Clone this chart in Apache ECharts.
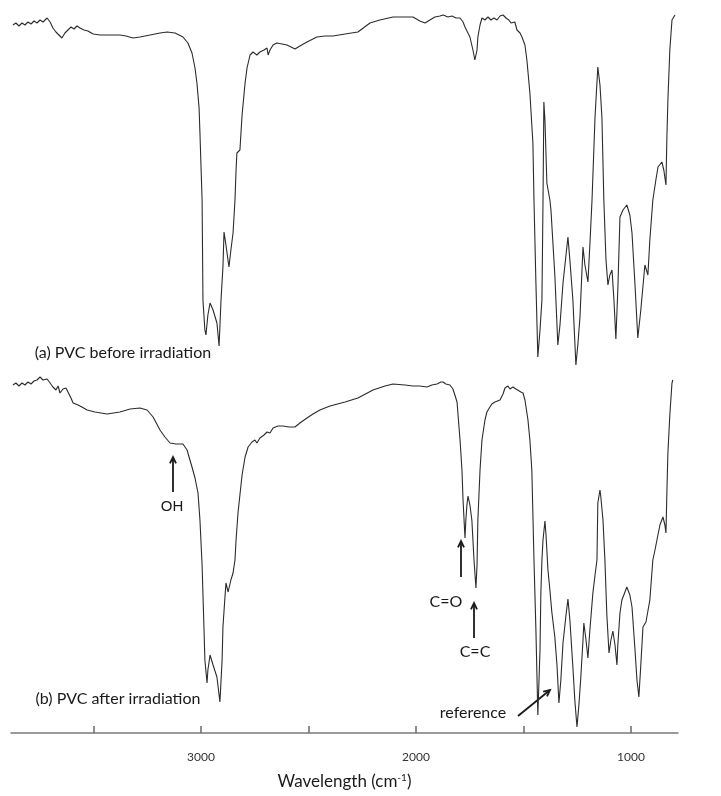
<!DOCTYPE html>
<html>
<head>
<meta charset="utf-8">
<script src="https://cdn.jsdelivr.net/npm/echarts@6/dist/echarts.min.js"></script>
<style>
  html, body { margin: 0; padding: 0; background: #fff; }
  #main { width: 721px; height: 796px; }
</style>
</head>
<body>
<div id="main"></div>
<script>
// (a) PVC before irradiation : wavenumber (cm-1) / transmittance
var wnA = [3875,3861,3847,3833,3819,3805,3791,3777,3763,3749,3735,3716,3702,3689,3675,3661,3647,3633,3619,3605,
  3591,3577,3563,3544,3526,3502,3470,3423,3377,3349,3316,3284,3237,3191,3158,3121,3084,3061,3042,3028,
  3019,3009,3005,2995,2991,2982,2977,2968,2958,2944,2926,2916,2907,2898,2893,2884,2870,2861,2851,2842,
  2837,2833,2828,2819,2809,2795,2786,2772,2758,2740,2726,2707,2693,2688,2679,2665,2647,2623,2600,2581,
  2563,2540,2507,2461,2423,2386,2330,2270,2214,2168,2107,2051,2014,1982,1958,1935,1912,1888,1874,1851,
  1833,1814,1795,1781,1772,1763,1749,1735,1726,1716,1712,1702,1693,1679,1665,1651,1637,1623,1609,1595,
  1581,1568,1558,1549,1540,1530,1516,1507,1493,1484,1470,1456,1451,1442,1433,1423,1414,1409,1405,1400,
  1391,1377,1372,1354,1340,1330,1316,1302,1293,1284,1270,1256,1247,1237,1223,1214,1200,1191,1181,1167,
  1154,1144,1135,1126,1116,1107,1098,1088,1079,1070,1061,1051,1037,1019,1005,995,981,968,954,935,
  921,912,898,884,874,856,847,837,833,828,819,809,795];
var tA = [86.75,87.25,86.5,87.25,86.75,87.5,87,87.75,87.25,88,87.5,88.5,87.5,86,85,84.25,83.5,84.75,85.5,86.25,
  85.75,86.5,86,85.5,85.25,84.5,84.25,84.25,84.25,84,83.5,83.75,84.25,84.75,85,84.75,83.75,82.25,79.75,76,
  72.25,66,59.75,43,18,10.5,9.25,14.25,17.25,15.5,12.25,6.5,18,26.25,35,31.75,26.25,30.5,34.75,43,
  50.5,54.75,55,55.5,64.25,72.25,76,79.25,80,79.25,80,80.5,81,79.25,80.5,81.75,82.25,82,81.75,81.25,
  80.75,81.5,82.5,83.75,84,84,84.5,85,87.25,88,88.75,88.75,88.75,87.75,87.25,88,88.75,89,89.25,88.75,
  89,88.5,88.5,87.5,86.25,86.75,83.75,80.5,78,80.5,83.75,86.75,88.5,88,88.75,88,88.5,88,89,89.25,
  88.5,88,87.25,86.75,87.5,85.5,84.75,83.75,81.75,78,69.75,57.25,43,22.25,3.75,10.5,18,43,67.5,63,
  47.25,43,40.5,24.25,6.75,11.75,22.25,29.25,33.75,28,18,1.75,6.75,13.75,31.25,26.75,22.5,31.75,43,63.75,
  76.25,71.75,63.75,43,28,21.75,24.25,25.5,18,8.25,20.5,38.75,40.5,41.75,39.25,34.75,21.75,8.5,15.5,26.75,
  24.25,33,43,48,51.25,52.5,50.5,46.75,58,68,80.5,88,89.25];

// (b) PVC after irradiation
var wnB = [3875,3861,3847,3833,3819,3805,3791,3777,3763,3749,3735,3716,3702,3689,3675,3665,3656,3642,3628,3619,
  3605,3595,3572,3554,3530,3493,3437,3377,3330,3284,3251,3223,3191,3168,3144,3116,3084,3065,3042,3028,
  3014,3005,2995,2986,2982,2972,2968,2958,2944,2926,2912,2902,2898,2888,2884,2874,2870,2861,2851,2842,
  2837,2828,2819,2809,2795,2781,2763,2749,2740,2726,2707,2693,2679,2665,2642,2619,2591,2563,2540,2507,
  2479,2447,2400,2330,2270,2200,2144,2107,2051,2014,1982,1949,1926,1902,1884,1874,1861,1842,1828,1819,
  1809,1805,1795,1786,1781,1772,1768,1763,1758,1749,1740,1730,1721,1716,1712,1702,1693,1679,1670,1656,
  1647,1633,1609,1595,1586,1572,1563,1549,1535,1526,1512,1502,1493,1479,1470,1461,1451,1442,1433,1423,
  1419,1414,1409,1400,1395,1386,1377,1368,1354,1344,1335,1326,1316,1302,1293,1284,1270,1261,1251,1242,
  1233,1223,1219,1209,1200,1191,1177,1167,1158,1154,1144,1140,1130,1121,1112,1102,1093,1084,1074,1065,
  1061,1051,1042,1033,1019,1005,995,981,972,963,954,944,930,921,912,898,888,879,865,851,
  842,837,833,828,819,809,805];
var tB = [87,87.5,86.75,87.5,87,87.75,87.25,88,88.25,89,88.25,88.5,87.5,86.5,85.75,86.75,85,86,86.25,85.25,
  83.75,82.5,82,81.5,80.75,80.25,79.75,80.25,81,81.25,80.75,79,75.75,74,72.5,72.25,72.25,70.75,66.5,63.75,
  60,53.25,42,25.75,18.25,12.5,15.75,19.5,17,14,7.75,18.25,26.5,34.5,37.5,35.25,35.25,38.25,40,43.25,
  48.25,55,59.5,64.5,69,71.5,72.75,73.25,72.5,73.75,74.5,75.25,75,76.25,76.75,76.75,76.5,76.5,77.5,78.75,
  79.75,80.75,81.75,82.75,83.75,85.75,86.75,87.25,87,86.75,86.75,86.5,87,87.25,87.75,87.75,87.25,87,86,84.5,
  82.75,80,73.25,65.75,58.25,48.75,53.25,57,59.25,57,53.25,43.25,36.25,42,53.25,65.75,73.25,78.25,80.25,81.5,
  82.25,82.75,83.25,84.75,86.25,86.75,86,86.5,86,86.5,85.25,85,83.25,78.25,73.25,65.75,43.25,25.75,4.5,20.75,
  35,43.25,48.25,53,49.5,40.75,35.75,30.25,24,17,7.5,13.25,22.5,29.5,33.5,28.25,16.5,8.25,1.5,7,
  14,23.25,27.5,23.25,18.75,25.75,35,39.5,43.25,57.5,60.75,59,53.25,43.25,29.5,20,23.25,25.5,22,17,
  22,30,33.25,34.5,36.5,34.5,31.5,20.75,13.25,9,17,26.5,27.75,28.25,33.25,43.25,45.75,48.25,52,54,
  52,50,59.5,70,79.5,87.5,88.25];

var tickValues = [3500, 3000, 2500, 2000, 1500, 1000];
var labelValues = [3000, 2000, 1000];

var zip = function(xs, ys){
    var out = [];
    for (var i = 0; i < xs.length; i++) out.push([xs[i], ys[i]]);
    return out;
};

var myChart = echarts.init(document.getElementById('main'));
var lineStyle = { color: '#2b2b2b', width: 1.1 };
var calibri = 'Lato, "Open Sans", sans-serif';

// arrow helper for the annotations (shaft + open head)
var arrow = function(x1, y1, x2, y2){
    var a = Math.atan2(y2 - y1, x2 - x1), h = 7, s = 0.45;
    return [
        { type: 'line', shape: { x1: x1, y1: y1, x2: x2, y2: y2 }, style: { stroke: '#1a1a1a', lineWidth: 1.8 } },
        { type: 'polyline', shape: { points: [
            [x2 - h * Math.cos(a - s), y2 - h * Math.sin(a - s)], [x2, y2],
            [x2 - h * Math.cos(a + s), y2 - h * Math.sin(a + s)] ] },
          style: { stroke: '#1a1a1a', lineWidth: 1.8, fill: null } }
    ];
};
var txt = function(x, y, s, font, size){
    return { type: 'text', x: x, y: y, style: { text: s, font: size + 'px ' + font, fill: '#1a1a1a', align: 'center', verticalAlign: 'middle' } };
};

var graphics = [
    txt(123, 353, '(a) PVC before irradiation', calibri, 16),
    txt(118, 699, '(b) PVC after irradiation', calibri, 16),
    txt(172, 507, 'OH', '"Liberation Sans", Arial', 15),
    txt(446, 602, 'C=O', calibri, 16),
    txt(475, 652, 'C=C', calibri, 16),
    txt(473, 713, 'reference', calibri, 16)
].concat(arrow(173, 492, 173, 457))
 .concat(arrow(461, 577, 461, 541))
 .concat(arrow(474, 638, 474, 603))
 .concat(arrow(518, 716, 550, 690));

var option = {
    animation: false,
    backgroundColor: '#fff',
    grid: [
        { left: 11, right: 43, top: 12, height: 360 },
        { left: 11, right: 43, top: 373, height: 360 }
    ],
    xAxis: [
        { type: 'value', gridIndex: 0, inverse: true, min: 781, max: 3884, show: false },
        {
            type: 'value', gridIndex: 1, inverse: true, min: 781, max: 3884,
            axisLine: { lineStyle: { color: '#7a7a7a', width: 1.5 } },
            axisTick: { show: true, inside: true, length: 7, customValues: tickValues,
                        lineStyle: { color: '#6a6a6a', width: 1.5 } },
            axisLabel: { customValues: labelValues, color: '#333', fontSize: 12,
                         fontFamily: calibri, margin: 18,
                         formatter: function(v){ return String(v); } },
            splitLine: { show: false },
            name: 'Wavelength (cm{sup|-1})',
            nameLocation: 'middle',
            nameGap: 40,
            nameTextStyle: {
                color: '#1a1a1a', fontSize: 17, fontFamily: calibri,
                rich: { sup: { fontSize: 10, verticalAlign: 'top', padding: [0, 0, 8, 0], fontFamily: calibri, color: '#1a1a1a' } }
            }
        }
    ],
    yAxis: [
        { type: 'value', gridIndex: 0, min: 0, max: 90, show: false },
        { type: 'value', gridIndex: 1, min: 0, max: 90, show: false }
    ],
    series: [
        { name: 'before', type: 'line', xAxisIndex: 0, yAxisIndex: 0, data: zip(wnA, tA),
          showSymbol: false, lineStyle: lineStyle },
        { name: 'after', type: 'line', xAxisIndex: 1, yAxisIndex: 1, data: zip(wnB, tB),
          showSymbol: false, lineStyle: lineStyle }
    ],
    graphic: graphics
};
myChart.setOption(option);
</script>
</body>
</html>
